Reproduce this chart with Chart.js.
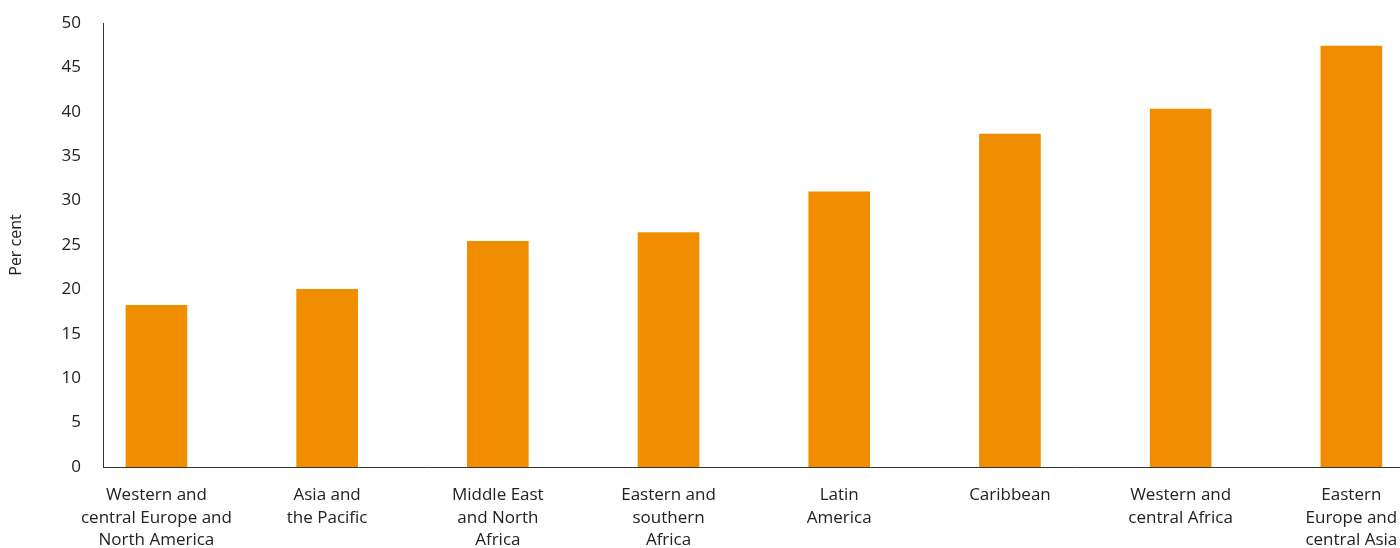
<!DOCTYPE html>
<html>
<head>
<meta charset="utf-8">
<script src="https://cdn.jsdelivr.net/npm/chart.js@4"></script>
<style>
  html, body { margin: 0; padding: 0; background: #fff; overflow: hidden; }
  #wrap { width: 1400px; height: 548px; }
</style>
</head>
<body>
<div id="wrap"><canvas id="chart"></canvas></div>
<script>
// 地域名（改行位置は元の図に合わせる）
const regions = [
  ["Western and", "central Europe and", "North America"],
  ["Asia and", "the Pacific"],
  ["Middle East", "and North", "Africa"],
  ["Eastern and", "southern", "Africa"],
  ["Latin", "America"],
  ["Caribbean"],
  ["Western and", "central Africa"],
  ["Eastern", "Europe and", "central Asia"]
];

// 値（パーセント）
const percents = [18.2, 20.0, 25.4, 26.4, 31.0, 37.5, 40.3, 47.4];

const yTicks = [0, 5, 10, 15, 20, 25, 30, 35, 40, 45, 50];

const font = { family: "'Open Sans', Lato, sans-serif", size: 17 };
const textColor = "#222";

const points = percents.map((v, i) => ({ x: i, y: v }));

new Chart(document.getElementById("chart"), {
  type: "bar",
  data: {
    datasets: [{
      data: points,
      backgroundColor: "#f18e00",
      borderWidth: 0,
      barThickness: 61
    }]
  },
  options: {
    responsive: true,
    maintainAspectRatio: false,
    animation: false,
    layout: { padding: { top: 23, right: 0, bottom: 0, left: 0 } },
    plugins: { legend: { display: false }, tooltip: { enabled: false } },
    scales: {
      x: {
        type: "linear",
        offset: false,
        min: -0.313,
        max: 7.285,
        grid: { display: false, drawTicks: false },
        border: { color: "#333", width: 1 },
        ticks: {
          stepSize: 1,
          includeBounds: false,
          autoSkip: false,
          maxRotation: 0,
          padding: 17,
          color: textColor,
          font: { ...font, lineHeight: 1.32 },
          callback: v => Number.isInteger(v) && regions[v] ? regions[v] : ""
        },
        afterFit: s => { s.height = 81; s.paddingLeft = 0; s.paddingRight = 0; }
      },
      y: {
        min: 0,
        max: 50,
        grid: { display: false, drawTicks: false },
        border: { color: "#333", width: 1 },
        afterBuildTicks: s => { s.ticks = yTicks.map(v => ({ value: v })); },
        ticks: { padding: 22, color: textColor, font: font },
        title: { display: true, text: "Per cent", color: textColor, font: { ...font, size: 16 }, padding: { top: 7, bottom: 0 } },
        afterFit: s => { s.width = 103; s.paddingTop = 0; s.paddingBottom = 0; }
      }
    }
  }
});
</script>
</body>
</html>
